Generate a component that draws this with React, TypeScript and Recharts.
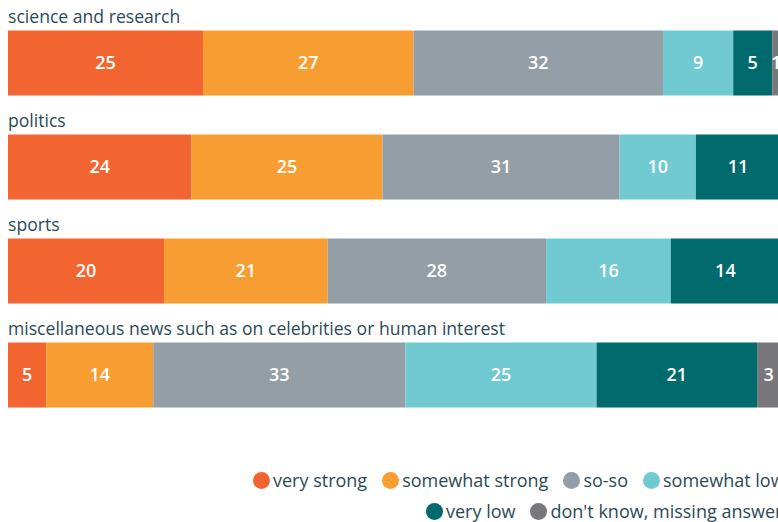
import React from 'react';
import { BarChart, Bar, XAxis, YAxis, LabelList } from 'recharts';

const categories = [
  'science and research',
  'politics',
  'sports',
  'miscellaneous news such as on celebrities or human interest',
];

const veryStrong = [25, 24, 20, 5];
const somewhatStrong = [27, 25, 21, 14];
const soSo = [32, 31, 28, 33];
const somewhatLow = [9, 10, 16, 25];
const veryLow = [5, 11, 14, 21];
const dontKnow = [1, 0, 0, 3];

const TEXT = '#2c4a56';
const FONT = '"Open Sans", sans-serif';

const SERIES = [
  { key: 'veryStrong', name: 'very strong', color: '#f26531', values: veryStrong },
  { key: 'somewhatStrong', name: 'somewhat strong', color: '#f79d32', values: somewhatStrong },
  { key: 'soSo', name: 'so-so', color: '#939ea6', values: soSo },
  { key: 'somewhatLow', name: 'somewhat low', color: '#71c9d1', values: somewhatLow },
  { key: 'veryLow', name: 'very low', color: '#006a6c', values: veryLow },
  { key: 'dontKnow', name: "don't know, missing answer", color: '#78787c', values: dontKnow },
];

const data = categories.map((name, i) => {
  const row: Record<string, string | number> = { name };
  SERIES.forEach(s => {
    row[s.key] = s.values[i];
  });
  return row;
});

// category title drawn above the start of each bar
function TitleLabel(props: any) {
  const { x, y, index } = props;
  return (
    <text x={x} y={y - 8} fill={TEXT} fontSize={17.6} fontFamily={FONT}>
      {categories[index]}
    </text>
  );
}

function LegendItem({ name, color }: { name: string; color: string }) {
  return (
    <div style={{ display: 'flex', alignItems: 'center', marginRight: 15 }}>
      <span
        style={{
          width: 17,
          height: 17,
          borderRadius: '50%',
          background: color,
          display: 'inline-block',
          marginRight: 3,
        }}
      />
      <span style={{ whiteSpace: 'nowrap' }}>{name}</span>
    </div>
  );
}

export default function App() {
  const row1 = SERIES.slice(0, 4);
  const row2 = SERIES.slice(4);
  return (
    <div
      style={{
        position: 'fixed',
        left: 0,
        top: 0,
        width: 778,
        height: 522,
        overflow: 'hidden',
        fontFamily: FONT,
        color: TEXT,
        background: '#fff',
      }}
    >
      <div style={{ position: 'absolute', left: 8, top: 0 }}>
        <BarChart
          width={772}
          height={428}
          data={data}
          layout="vertical"
          stackOffset="expand"
          margin={{ top: 10.5, right: 0, bottom: 1.5, left: 0 }}
        >
          <XAxis type="number" hide domain={[0, 1]} />
          <YAxis type="category" dataKey="name" hide />
          {SERIES.map((s, si) => (
            <Bar
              key={s.key}
              dataKey={s.key}
              name={s.name}
              stackId="a"
              fill={s.color}
              barSize={65}
              isAnimationActive={false}
            >
              <LabelList
                dataKey={s.key}
                position="center"
                fill="#ffffff"
                fontSize={18}
                fontWeight={600}
                fontFamily={FONT}
                formatter={(v: any) => (v ? v : '')}
              />
              {si === 0 && <LabelList dataKey="name" content={TitleLabel} />}
            </Bar>
          ))}
        </BarChart>
      </div>
      <div style={{ position: 'absolute', top: 468, left: 253, display: 'flex', height: 24, fontSize: 18 }}>
        {row1.map(s => (
          <LegendItem key={s.key} name={s.name} color={s.color} />
        ))}
      </div>
      <div style={{ position: 'absolute', top: 499, left: 426, display: 'flex', height: 24, fontSize: 18 }}>
        {row2.map(s => (
          <LegendItem key={s.key} name={s.name} color={s.color} />
        ))}
      </div>
    </div>
  );
}
